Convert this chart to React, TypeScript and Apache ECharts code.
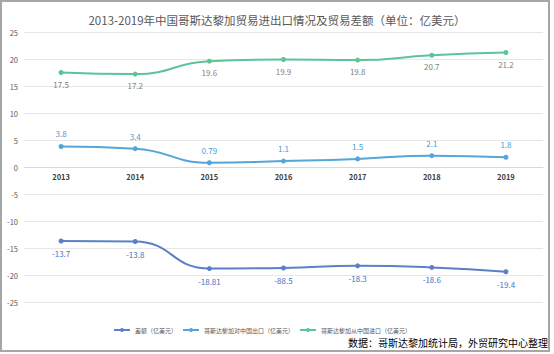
import React, { useEffect, useRef } from "react";
import * as echarts from "echarts";

const years = ["2013", "2014", "2015", "2016", "2017", "2018", "2019"];
const diffValues = [-13.7, -13.8, -18.81, -18.7, -18.3, -18.6, -19.4];
const diffLabels = ["-13.7", "-13.8", "-18.81", "-88.5", "-18.3", "-18.6", "-19.4"];
const exportValues = [3.8, 3.4, 0.79, 1.1, 1.5, 2.1, 1.8];
const importValues = [17.5, 17.2, 19.6, 19.9, 19.8, 20.7, 21.2];
const seriesNames = ["差额（亿美元）", "哥斯达黎加对中国出口（亿美元）", "哥斯达黎加从中国进口（亿美元）"];
const titleText = "2013-2019年中国哥斯达黎加贸易进出口情况及贸易差额（单位：亿美元）";
const sourceText = "数据：哥斯达黎加统计局，外贸研究中心整理";

const FONT = "'Microsoft YaHei','Noto Sans CJK SC',sans-serif";

export default function App() {
  const ref = useRef<HTMLDivElement>(null);
  useEffect(() => {
    if (!ref.current) return;
    const chart = echarts.init(ref.current, undefined, { renderer: "svg" });
    const colors = ["#5a80c6", "#56a5d8", "#5cc497"];
    chart.setOption({
      animation: false,
      textStyle: { fontFamily: FONT },
      title: {
        text: titleText,
        left: "center",
        top: 9,
        textStyle: { fontSize: 11.5, fontWeight: "normal", color: "#595959", fontFamily: FONT },
      },
      legend: {
        left: 108,
        top: 322,
        itemWidth: 16,
        itemHeight: 5,
        itemGap: 5,
        textStyle: { fontSize: 6, color: "#595959", fontFamily: FONT },
        data: seriesNames,
      },
      grid: { left: 24, right: 11, top: 32, bottom: 52, containLabel: false },
      xAxis: {
        type: "category",
        data: years,
        boundaryGap: true,
        offset: -135,
        axisLine: { onZero: false, lineStyle: { color: "#d9d9d9" } },
        axisTick: { show: false },
        axisLabel: { fontSize: 7.5, fontWeight: "bold", color: "#404040", margin: 6 },
      },
      yAxis: {
        type: "value",
        min: -25,
        max: 25,
        interval: 5,
        axisLine: { show: false },
        axisTick: { show: false },
        axisLabel: { fontSize: 7.5, color: "#595959", margin: 6 },
        splitLine: { lineStyle: { color: "#e6e6e6" } },
      },
      series: [
        {
          name: seriesNames[0],
          type: "line",
          smooth: true,
          data: diffValues,
          symbol: "circle",
          symbolSize: 5,
          lineStyle: { width: 2, color: colors[0] },
          itemStyle: { color: colors[0] },
          label: {
            show: true,
            position: "bottom",
            distance: 6,
            fontSize: 8,
            color: "#4472c4",
            formatter: (p: any) => diffLabels[p.dataIndex],
          },
        },
        {
          name: seriesNames[1],
          type: "line",
          smooth: true,
          data: exportValues,
          symbol: "circle",
          symbolSize: 5,
          lineStyle: { width: 2, color: colors[1] },
          itemStyle: { color: colors[1] },
          label: { show: true, position: "top", distance: 6, fontSize: 8, color: "#4a9bd3" },
        },
        {
          name: seriesNames[2],
          type: "line",
          smooth: true,
          data: importValues,
          symbol: "circle",
          symbolSize: 5,
          lineStyle: { width: 2, color: colors[2] },
          itemStyle: { color: colors[2] },
          label: { show: true, position: "bottom", distance: 5, fontSize: 8, color: "#7f7f7f" },
        },
      ],
      graphic: [
        {
          type: "rect",
          shape: { x: 1, y: 1, width: 548, height: 350 },
          style: { fill: "none", stroke: "#a6a6a6", lineWidth: 2 },
          silent: true,
        },
        {
          type: "text",
          right: 6,
          top: 337,
          style: { text: sourceText, fontSize: 10, fill: "#000000", fontFamily: FONT },
        },
      ],
    });
    return () => chart.dispose();
  }, []);
  return (
    <div style={{ position: "fixed", left: 0, top: 0, width: 554, height: 354, background: "#fff" }}>
      <div ref={ref} style={{ width: 554, height: 354 }} />
    </div>
  );
}
